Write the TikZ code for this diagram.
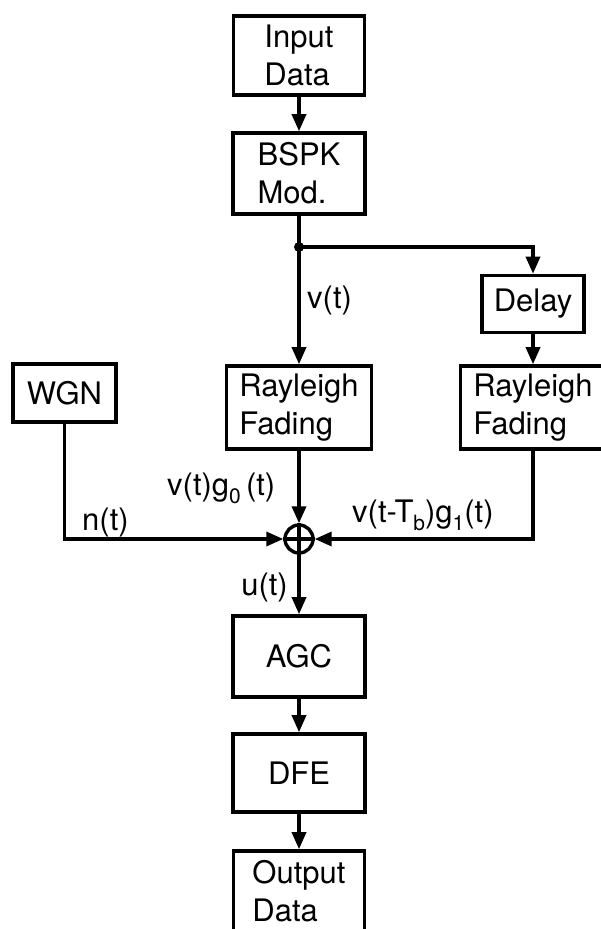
\documentclass[tikz,border=0pt]{standalone}
\usepackage{fontspec}
\setmainfont{TeX Gyre Heros}
\usetikzlibrary{arrows.meta}
\newcommand{\fsz}{\fontsize{31}{38}\selectfont}
\newcommand{\sbs}[1]{\raisebox{-8pt}{\fontsize{21}{21}\selectfont #1}}
\begin{document}
\begin{tikzpicture}[x=1pt,y=-1pt,
  box/.style={draw, line width=3.6pt, inner sep=0pt, align=left, font=\fsz},
  lbl/.style={inner sep=0pt, font=\fsz},
  conn/.style={line width=3.4pt},
  arr/.style={line width=3.4pt, -{Triangle[length=17pt,width=14pt]}}]
\useasboundingbox (0,0) rectangle (601,929);
\fill[white] (0,0) rectangle (601,929);
% boxes
\node[box, minimum width=131pt, minimum height=79pt] (in) at (299,55.5) {Input\\Data};
\node[box, minimum width=132pt, minimum height=81pt] (bspk) at (299,173.5) {BSPK\\Mod.};
\node[box, minimum width=102pt, minimum height=57pt] (delay) at (533,304) {Delay};
\node[box, minimum width=145pt, minimum height=83pt] (ray1) at (299,407.5) {Rayleigh\\Fading};
\node[box, minimum width=145pt, minimum height=83pt] (ray2) at (533,407.5) {Rayleigh\\Fading};
\node[box, minimum width=103pt, minimum height=58pt] (wgn) at (64.5,393) {WGN};
\node[box, minimum width=132pt, minimum height=81pt] (agc) at (299,656.5) {AGC};
\node[box, minimum width=132pt, minimum height=78pt] (dfe) at (299,773) {DFE};
\node[box, minimum width=131pt, minimum height=80pt] (out) at (299,891) {Output\\Data};
% summing junction
\node[circle, draw, line width=3.4pt, minimum size=28pt, inner sep=0pt] (sum) at (299,539) {};
\draw[conn] (sum.north) -- (sum.south);
\draw[conn] (sum.west) -- (sum.east);
% branch point
\node[circle, fill, inner sep=0pt, minimum size=10pt] (j) at (299,247) {};
% connectors
\draw[arr] (in) -- (bspk);
\draw[conn] (bspk.south) -- (j.center);
\draw[arr] (j.center) -- (ray1.north);
\draw[arr] (j.center) -| (delay.north);
\draw[arr] (delay) -- (ray2);
\draw[arr] (ray2.south) |- (sum.east);
\draw[arr] (wgn.south) |- (sum.west);
\draw[arr] (ray1) -- (sum);
\draw[arr] (sum) -- (agc);
\draw[arr] (agc) -- (dfe);
\draw[arr] (dfe) -- (out);
% labels
\node[lbl, anchor=base west] (lv) at (307,308) {v(t)};
\node[lbl, anchor=base west] (lg0) at (167,495) {v(t)g\sbs{0}\,(t)};
\node[lbl, anchor=base west] (ln) at (82,530) {n(t)};
\node[lbl, anchor=base west] (lg1) at (352,522) {v(t-T\sbs{b})g\sbs{1}(t)};
\node[lbl, anchor=base east] (lu) at (288,595) {u(t)};
\end{tikzpicture}
\end{document}
